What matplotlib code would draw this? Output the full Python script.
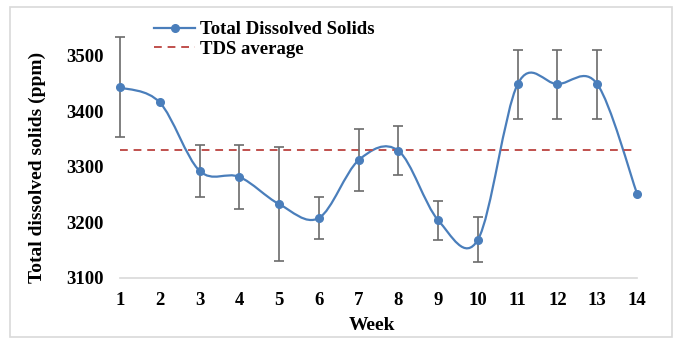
import numpy as np
import matplotlib.pyplot as plt
from matplotlib.path import Path
from matplotlib.patches import PathPatch, Rectangle
from matplotlib.lines import Line2D

weeks = [1, 2, 3, 4, 5, 6, 7, 8, 9, 10, 11, 12, 13, 14]
tds = [3443, 3416, 3293, 3282, 3233, 3208, 3312, 3329, 3204, 3169, 3449, 3449, 3449, 3252]
tds_err = [90, 0, 47, 58, 102, 37, 56, 44, 35, 41, 62, 62, 62, 0]
tds_average = 3331
y_ticks = [3100, 3200, 3300, 3400, 3500]

blue = '#4a7ebb'
red = '#c0504d'
gray = '#6b6b6b'

plt.rcParams['font.family'] = ['Liberation Serif', 'DejaVu Serif']
plt.rcParams['font.weight'] = 'bold'


def smooth_path(x, y):
    # Excel-style smoothed line: cubic Bezier through every point (Catmull-Rom control points)
    pts = np.column_stack([x, y]).astype(float)
    ext = np.vstack([pts[0], pts, pts[-1]])
    verts = [pts[0]]
    codes = [Path.MOVETO]
    for i in range(len(pts) - 1):
        p0, p1, p2, p3 = ext[i], ext[i + 1], ext[i + 2], ext[i + 3]
        verts += [p1 + (p2 - p0) / 6, p2 - (p3 - p1) / 6, p2]
        codes += [Path.CURVE4] * 3
    return Path(verts, codes)


fig = plt.figure(figsize=(6.84, 3.48), dpi=100)
fig.patches.append(Rectangle((10 / 684, 1 - 337 / 348), 662 / 684, 330 / 348,
                             transform=fig.transFigure, fill=False,
                             edgecolor='#d9d9d9', linewidth=1.2))

ax = fig.add_axes([120 / 684, 1 - 278 / 348, 517 / 684, 250 / 348])

ax.hlines(tds_average, weeks[0], weeks[-1], colors=red, linestyles=(0, (4, 3)), linewidth=1.4)

err_weeks = [w for w, e in zip(weeks, tds_err) if e > 0]
err_vals = [v for v, e in zip(tds, tds_err) if e > 0]
err_sizes = [e for e in tds_err if e > 0]
ax.errorbar(err_weeks, err_vals, yerr=err_sizes, fmt='none', ecolor=gray,
            elinewidth=1.2, capsize=3.5, capthick=1.2, clip_on=False)

ax.add_patch(PathPatch(smooth_path(weeks, tds), fill=False, edgecolor=blue,
                       linewidth=1.6, clip_on=False))
ax.plot(weeks, tds, linestyle='none', marker='o', markersize=5.5, color=blue, clip_on=False)

ax.set_xlim(1, 14)
ax.set_ylim(3100, 3550)
ax.set_xticks(weeks)
ax.set_yticks(y_ticks)
ax.tick_params(axis='both', length=0, labelsize=13.5)
ax.tick_params(axis='x', pad=10)
ax.tick_params(axis='y', pad=12)
for s in ['top', 'right', 'left']:
    ax.spines[s].set_visible(False)
ax.spines['bottom'].set_color('#d9d9d9')
ax.spines['bottom'].set_linewidth(1.2)

ax.set_xlabel('Week', fontsize=14, fontweight='bold')
ax.set_ylabel('Total dissolved solids (ppm)', fontsize=14, fontweight='bold')
ax.xaxis.set_label_coords(0.487, -0.155)
ax.yaxis.set_label_coords(-0.143, 0.444)

handles = [
    Line2D([], [], color=blue, linewidth=1.6, marker='o', markersize=5.5),
    Line2D([], [], color=red, linewidth=1.4, linestyle=(0, (4, 3))),
]
fig.legend(handles, ['Total Dissolved Solids', 'TDS average'], loc='upper left',
           bbox_to_anchor=(145 / 684, 1 - 12 / 348), frameon=False, fontsize=13.5,
           borderpad=0, handlelength=2.15, handletextpad=0.3, labelspacing=0.1)

fig.savefig('out.png', dpi=100)
